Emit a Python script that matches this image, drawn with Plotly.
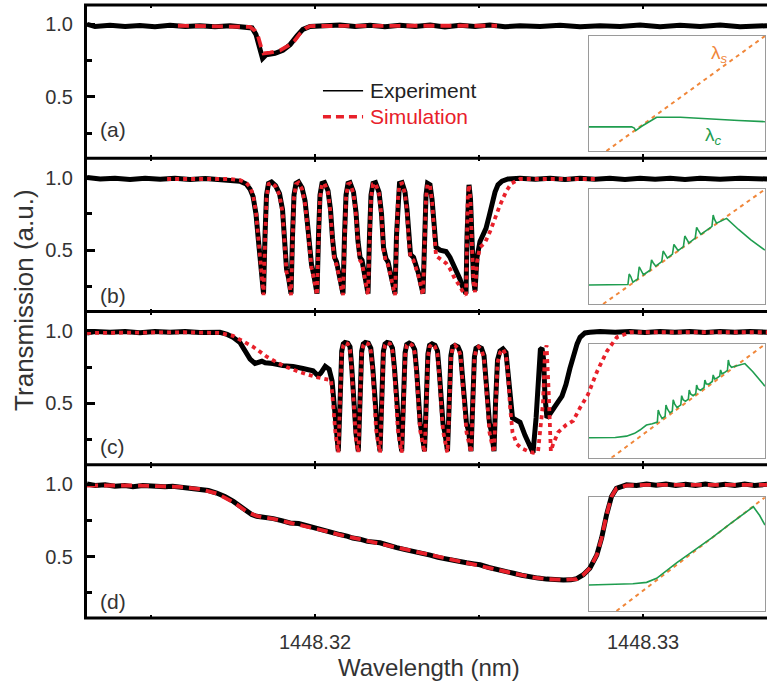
import plotly.graph_objects as go

# ---------------------------------------------------------------- data
# Wavelength values are offsets in pm above BASE_NM (1448.31 nm)
BASE_NM = 1448.31

x_tick_vals = [1448.32, 1448.33]
x_tick_text = ["1448.32", "1448.33"]
x_minor_vals = [1448.315, 1448.325]
y_tick_vals = [0.5, 1.0]
y_tick_text = ["0.5", "1.0"]
y_minor_vals = [0.25, 0.75]

# ---- panel (a)
a_exp_pm = [3.05, 3.29, 3.75, 4.21, 4.66, 5.12, 5.58, 6.04, 6.49, 6.95,
            7.41, 7.87, 8.08, 8.20, 8.29, 8.35, 8.40, 8.51, 8.78, 9.02,
            9.24, 9.45, 9.63, 9.85, 10.30, 10.76, 11.22, 11.68, 12.13, 12.59,
            13.05, 13.51, 13.96, 14.42, 14.88, 15.33, 15.79, 16.25, 16.86, 17.47,
            18.08, 18.69, 19.30, 19.91, 20.52, 21.13, 21.74, 22.35, 22.96, 23.78]
a_exp_T = [1.0, 0.985, 0.993, 0.985, 0.992, 0.983, 0.993, 0.985, 0.99, 0.983,
           0.99, 0.985, 0.975, 0.93, 0.85, 0.78, 0.765, 0.79, 0.80, 0.82,
           0.86, 0.92, 0.965, 0.985, 0.99, 0.995, 0.985, 0.993, 0.983, 0.993,
           0.985, 0.995, 0.982, 0.993, 0.985, 0.995, 0.983, 0.99, 0.985, 0.993,
           0.983, 0.99, 0.985, 0.995, 0.983, 0.993, 0.985, 0.995, 0.983, 0.99]
a_sim_pm = [5.82, 7.41, 8.02, 8.17, 8.26, 8.36, 8.43, 8.63, 8.93, 9.24,
            9.39, 9.54, 9.70, 9.85, 11.00, 13.00, 15.55]
a_sim_T = [0.99, 0.988, 0.982, 0.955, 0.92, 0.84, 0.80, 0.805, 0.82, 0.86,
           0.89, 0.935, 0.97, 0.988, 0.99, 0.99, 0.99]

# ---- panel (b)
b_exp_pre_pm = [3.05, 3.45, 3.90, 4.36, 4.82, 5.28, 5.73, 6.19, 6.65, 7.10,
                7.41, 7.71, 7.90, 8.02, 8.11, 8.20, 8.26, 8.32, 8.38]
b_exp_pre_T = [1.0, 0.99, 0.995, 0.987, 0.995, 0.988, 0.995, 0.987, 0.993, 0.988,
               0.985, 0.975, 0.955, 0.92, 0.87, 0.75, 0.60, 0.42, 0.27]
b_sim_pre_pm = [5.49, 6.50, 7.41, 7.71, 7.90, 8.02, 8.11, 8.20, 8.26, 8.32, 8.38]
b_sim_pre_T = [0.99, 0.992, 0.99, 0.982, 0.965, 0.935, 0.88, 0.76, 0.60, 0.42, 0.27]
b_osc_pm = [8.430, 8.475, 8.521, 8.582, 8.673, 8.795, 8.917, 9.009, 9.070, 9.131, 9.192,
            9.268, 9.314, 9.359, 9.420, 9.497, 9.603, 9.695, 9.771, 9.832, 9.893, 9.969,
            10.061, 10.106, 10.152, 10.213, 10.289, 10.396, 10.472, 10.533, 10.594, 10.655, 10.747,
            10.853, 10.899, 10.945, 11.006, 11.067, 11.173, 11.250, 11.311, 11.372, 11.433, 11.524,
            11.616, 11.661, 11.707, 11.768, 11.844, 11.951, 12.027, 12.088, 12.164, 12.225, 12.332,
            12.439, 12.484, 12.530, 12.576, 12.652, 12.744, 12.805, 12.866, 12.911, 13.003, 13.155,
            13.292, 13.338, 13.384, 13.430, 13.506, 13.567, 13.628, 13.689, 13.811, 13.994, 14.116,
            14.268, 14.420, 14.512,
            14.603, 14.634, 14.658, 14.695, 14.741, 14.786, 14.832, 14.878]
b_osc_exp_T = [0.20, 0.60, 0.88, 0.96, 0.97, 0.945, 0.89, 0.78, 0.55, 0.37, 0.31,
               0.20, 0.60, 0.88, 0.96, 0.97, 0.93, 0.84, 0.68, 0.50, 0.40, 0.32,
               0.20, 0.60, 0.88, 0.96, 0.965, 0.91, 0.78, 0.58, 0.45, 0.42, 0.33,
               0.20, 0.60, 0.88, 0.96, 0.965, 0.90, 0.76, 0.56, 0.45, 0.43, 0.32,
               0.20, 0.60, 0.88, 0.96, 0.965, 0.90, 0.75, 0.52, 0.44, 0.42, 0.32,
               0.20, 0.60, 0.88, 0.96, 0.965, 0.90, 0.78, 0.56, 0.47, 0.45, 0.34,
               0.20, 0.60, 0.88, 0.96, 0.95, 0.85, 0.65, 0.52, 0.50, 0.49, 0.45,
               0.38, 0.30, 0.24,
               0.20, 0.60, 0.90, 0.95, 0.85, 0.55, 0.30, 0.22]
b_osc_sim_T = [0.19, 0.55, 0.86, 0.955, 0.965, 0.94, 0.88, 0.76, 0.52, 0.35, 0.30,
               0.19, 0.55, 0.86, 0.955, 0.965, 0.92, 0.82, 0.66, 0.48, 0.38, 0.30,
               0.19, 0.55, 0.86, 0.955, 0.96, 0.90, 0.76, 0.56, 0.43, 0.40, 0.31,
               0.19, 0.55, 0.86, 0.955, 0.96, 0.89, 0.74, 0.54, 0.43, 0.41, 0.30,
               0.19, 0.55, 0.86, 0.955, 0.96, 0.89, 0.73, 0.50, 0.42, 0.40, 0.30,
               0.19, 0.55, 0.86, 0.955, 0.96, 0.89, 0.76, 0.54, 0.45, 0.43, 0.32,
               0.19, 0.55, 0.86, 0.955, 0.945, 0.84, 0.62, 0.46, 0.44, 0.41, 0.37,
               0.30, 0.25, 0.21,
               0.19, 0.55, 0.88, 0.95, 0.84, 0.52, 0.28, 0.21]
b_exp_post_pm = [14.939, 15.030, 15.122, 15.213, 15.305, 15.396, 15.488, 15.579, 15.701, 15.884,
                 16.25, 16.71, 17.17, 17.62, 18.08, 18.54, 18.99, 19.45, 19.91, 20.37,
                 20.83, 21.28, 21.74, 22.35, 22.96, 23.78]
b_exp_post_T = [0.45, 0.56, 0.60, 0.65, 0.73, 0.82, 0.90, 0.95, 0.975, 0.99,
                0.995, 0.988, 0.995, 0.987, 0.995, 0.988, 0.995, 0.987, 0.995, 0.988,
                0.995, 0.987, 0.995, 0.988, 0.995, 0.99]
b_sim_post_pm = [14.94, 15.03, 15.18, 15.34, 15.49, 15.64, 15.84, 15.99, 16.25, 17.00, 18.60]
b_sim_post_T = [0.42, 0.52, 0.55, 0.63, 0.72, 0.81, 0.91, 0.96, 0.99, 0.99, 0.99]

# ---- panel (c)
c_exp_pre_pm = [3.05, 3.29, 3.75, 4.21, 4.66, 5.12, 5.58, 6.04, 6.49, 6.95,
                7.10, 7.32, 7.50, 7.71, 7.87, 8.02, 8.17, 8.26, 8.38, 8.48,
                8.72, 9.02, 9.33, 9.63, 9.94, 10.09, 10.18, 10.31, 10.43, 10.52,
                10.58, 10.64]
c_exp_pre_T = [0.985, 0.995, 0.99, 0.995, 0.987, 0.995, 0.99, 0.995, 0.988, 0.995,
               0.99, 0.975, 0.955, 0.92, 0.86, 0.805, 0.775, 0.78, 0.79, 0.78,
               0.775, 0.76, 0.755, 0.74, 0.725, 0.69, 0.71, 0.755, 0.735, 0.655,
               0.495, 0.33]
c_sim_pre_pm = [3.05, 4.50, 6.00, 7.10, 7.50, 8.11, 8.54, 9.02, 9.54, 10.05, 10.31, 10.49, 10.55, 10.62]
c_sim_pre_T = [0.985, 0.99, 0.99, 0.985, 0.965, 0.89, 0.82, 0.76, 0.715, 0.68, 0.665, 0.66, 0.50, 0.30]
c_osc_pm = [10.710, 10.762, 10.814, 10.862, 10.914, 11.000, 11.067, 11.119, 11.167, 11.213, 11.250,
            11.320, 11.372, 11.423, 11.472, 11.533, 11.625, 11.701, 11.762, 11.814, 11.862, 11.908,
            11.982, 12.033, 12.085, 12.134, 12.195, 12.286, 12.362, 12.423, 12.475, 12.524, 12.570,
            12.643, 12.695, 12.747, 12.795, 12.872, 12.963, 13.039, 13.100, 13.155, 13.207, 13.262,
            13.338, 13.390, 13.442, 13.491, 13.567, 13.658, 13.734, 13.795, 13.850, 13.902, 13.957,
            14.039, 14.091, 14.143, 14.192, 14.268, 14.359, 14.436, 14.497, 14.558, 14.619, 14.680,
            14.756, 14.808, 14.859, 14.908, 14.984, 15.076, 15.152, 15.213, 15.268, 15.320, 15.375]
c_osc_exp_T = [0.17, 0.50, 0.86, 0.91, 0.92, 0.915, 0.89, 0.75, 0.55, 0.36, 0.29,
               0.17, 0.50, 0.86, 0.91, 0.92, 0.915, 0.88, 0.74, 0.54, 0.36, 0.29,
               0.17, 0.50, 0.86, 0.91, 0.92, 0.915, 0.88, 0.74, 0.54, 0.36, 0.29,
               0.17, 0.50, 0.85, 0.905, 0.915, 0.905, 0.87, 0.72, 0.52, 0.36, 0.29,
               0.17, 0.50, 0.84, 0.90, 0.91, 0.90, 0.86, 0.70, 0.50, 0.36, 0.30,
               0.17, 0.50, 0.83, 0.89, 0.90, 0.89, 0.85, 0.68, 0.48, 0.36, 0.31,
               0.17, 0.50, 0.82, 0.88, 0.89, 0.88, 0.83, 0.66, 0.47, 0.36, 0.31]
c_osc_sim_T = [0.16, 0.45, 0.84, 0.90, 0.92, 0.91, 0.87, 0.72, 0.50, 0.32, 0.25,
               0.16, 0.45, 0.84, 0.90, 0.92, 0.91, 0.86, 0.71, 0.49, 0.32, 0.25,
               0.16, 0.45, 0.84, 0.90, 0.92, 0.91, 0.86, 0.71, 0.49, 0.32, 0.25,
               0.16, 0.45, 0.83, 0.90, 0.915, 0.90, 0.85, 0.69, 0.47, 0.31, 0.25,
               0.16, 0.45, 0.82, 0.89, 0.91, 0.89, 0.84, 0.67, 0.45, 0.31, 0.25,
               0.16, 0.45, 0.81, 0.88, 0.90, 0.88, 0.83, 0.65, 0.43, 0.30, 0.24,
               0.16, 0.45, 0.80, 0.87, 0.89, 0.87, 0.81, 0.63, 0.42, 0.30, 0.24]
c_exp_post_pm = [15.457, 15.503, 15.564, 15.640, 15.731, 15.823, 15.884, 15.945, 16.021, 16.098,
                 16.250, 16.402, 16.555,
                 16.646, 16.74, 16.81, 16.87, 16.92, 16.97, 17.01, 17.07, 17.17, 17.27,
                 17.41, 17.53, 17.65, 17.77, 17.88, 17.99,
                 18.08, 18.23, 18.38, 18.69, 19.15, 19.60, 20.06, 20.52, 20.97, 21.43,
                 21.89, 22.35, 22.80, 23.26, 23.78]
c_exp_post_T = [0.17, 0.50, 0.80, 0.86, 0.875, 0.85, 0.72, 0.52, 0.40, 0.39,
                0.37, 0.28, 0.20,
                0.16, 0.40, 0.75, 0.87, 0.88, 0.80, 0.55, 0.40, 0.43, 0.47,
                0.51, 0.55, 0.63, 0.74, 0.83, 0.91,
                0.955, 0.985, 0.99, 0.995, 0.99, 0.995, 0.988, 0.995, 0.99, 0.995,
                0.988, 0.995, 0.99, 0.995, 0.99]
c_sim_post_pm = [15.457, 15.503, 15.564, 15.640, 15.731, 15.823, 15.884, 15.945, 16.021, 16.15,
                 16.30, 16.50, 16.65, 16.80,
                 16.95, 17.01, 17.06, 17.12, 17.19, 17.26, 17.41, 17.65, 17.87, 18.08,
                 18.32, 18.60, 18.90, 19.20, 19.60,
                 20.50, 21.50, 22.50, 23.78]
c_sim_post_T = [0.16, 0.45, 0.78, 0.85, 0.875, 0.83, 0.70, 0.48, 0.30, 0.22,
                0.19, 0.17, 0.16, 0.17,
                0.50, 0.85, 0.90, 0.60, 0.17, 0.22, 0.30, 0.35, 0.38, 0.47,
                0.56, 0.72, 0.86, 0.955, 0.99,
                0.99, 0.99, 0.99, 0.99]

# ---- panel (d)
d_exp_pm = [3.05, 3.30, 3.60, 3.90, 4.20, 4.45, 4.75, 4.97, 5.20, 5.43,
            5.66, 5.88, 6.20, 6.49, 6.75, 7.00, 7.25, 7.51, 7.72, 7.92,
            8.07, 8.22, 8.48, 8.73, 8.98, 9.24, 9.50, 9.75, 10.00, 10.25,
            10.50, 10.76, 11.00, 11.15, 11.37, 11.60, 11.98, 12.20, 12.49, 12.75,
            12.99, 13.25, 13.51, 13.75, 14.01, 14.30, 14.62, 14.85, 15.03, 15.30,
            15.54, 15.80, 16.05, 16.30, 16.55, 16.80, 17.06, 17.30, 17.57, 17.80,
            17.98, 18.18, 18.38, 18.59, 18.74, 18.89, 19.04, 19.19, 19.35, 19.50,
            19.80, 20.11, 20.40, 20.70, 21.00, 21.30, 21.60, 21.90, 22.20, 22.50,
            22.80, 23.10, 23.40, 23.78]
d_exp_T = [1.0, 0.99, 0.995, 0.985, 0.99, 0.982, 0.99, 0.985, 0.988, 0.982,
           0.985, 0.978, 0.972, 0.962, 0.955, 0.938, 0.915, 0.88, 0.845, 0.81,
           0.79, 0.778, 0.772, 0.762, 0.748, 0.732, 0.728, 0.712, 0.695, 0.682,
           0.668, 0.652, 0.64, 0.628, 0.62, 0.605, 0.595, 0.578, 0.562, 0.548,
           0.538, 0.522, 0.51, 0.495, 0.482, 0.47, 0.458, 0.45, 0.444, 0.425,
           0.41, 0.395, 0.385, 0.372, 0.36, 0.352, 0.345, 0.338, 0.338, 0.34,
           0.348, 0.375, 0.42, 0.51, 0.63, 0.79, 0.915, 0.97, 0.985, 0.995,
           0.99, 1.0, 0.992, 1.0, 0.99, 0.998, 0.99, 1.0, 0.99, 0.998,
           0.99, 1.0, 0.99, 0.998]
d_sim_pm = [3.05, 4.50, 5.88, 6.49, 7.00, 7.51, 7.92, 8.22, 8.73, 9.24,
            9.75, 10.25, 10.76, 11.37, 11.98, 12.49, 12.99, 13.51, 14.01, 14.62,
            15.03, 15.54, 16.05, 16.55, 17.06, 17.57, 17.98, 18.18, 18.38, 18.59,
            18.74, 18.89, 19.04, 19.19, 19.50, 20.11, 23.78]
d_sim_T = [0.99, 0.99, 0.98, 0.965, 0.935, 0.875, 0.81, 0.78, 0.76, 0.735,
           0.705, 0.68, 0.65, 0.62, 0.59, 0.56, 0.535, 0.51, 0.485, 0.46,
           0.44, 0.41, 0.385, 0.36, 0.345, 0.34, 0.345, 0.375, 0.42, 0.51,
           0.63, 0.79, 0.915, 0.97, 0.99, 0.995, 0.995]

# ---- insets (normalised coordinates)
ia_s_u = [0.10, 1.0]
ia_s_v = [0.0, 1.0]
ia_c_u = [0.0, 0.243, 0.258, 0.266, 0.30, 0.345, 0.385, 0.52, 0.70, 0.85, 1.0]
ia_c_v = [0.21, 0.21, 0.20, 0.178, 0.215, 0.26, 0.293, 0.293, 0.275, 0.265, 0.255]

ib_s_u = [0.081, 1.0]
ib_s_v = [0.0, 1.0]
ib_c_u = [0.0, 0.214, 0.222, 0.229, 0.238, 0.25, 0.278, 0.286, 0.295, 0.31,
          0.348, 0.356, 0.365, 0.38, 0.414, 0.422, 0.431, 0.446, 0.475, 0.483,
          0.492, 0.507, 0.537, 0.545, 0.554, 0.568, 0.604, 0.612, 0.621, 0.636,
          0.69, 0.699, 0.706, 0.713, 0.725, 0.782, 0.85, 0.92, 1.0]
ib_c_v = [0.166, 0.168, 0.17, 0.262, 0.24, 0.19, 0.22, 0.325, 0.30, 0.255,
          0.295, 0.384, 0.36, 0.33, 0.37, 0.462, 0.44, 0.40, 0.435, 0.52,
          0.50, 0.466, 0.50, 0.593, 0.57, 0.532, 0.575, 0.669, 0.645, 0.607,
          0.665, 0.678, 0.776, 0.74, 0.705, 0.747, 0.65, 0.56, 0.47]

ic_s_u = [0.129, 1.0]
ic_s_v = [0.0, 1.0]
ic_c_u = [0.0, 0.15, 0.214, 0.26, 0.29, 0.327, 0.36, 0.389, 0.394, 0.402,
          0.416, 0.433, 0.438, 0.446, 0.46, 0.474, 0.479, 0.487, 0.501, 0.522,
          0.527, 0.535, 0.549, 0.565, 0.57, 0.578, 0.592, 0.607, 0.612, 0.62,
          0.634, 0.654, 0.659, 0.667, 0.681, 0.701, 0.706, 0.714, 0.728, 0.743,
          0.748, 0.756, 0.77, 0.787, 0.792, 0.798, 0.81, 0.85, 0.886, 0.93,
          0.97, 1.0]
ic_c_v = [0.176, 0.178, 0.19, 0.215, 0.244, 0.288, 0.30, 0.314, 0.42, 0.385,
          0.345, 0.364, 0.465, 0.43, 0.395, 0.411, 0.51, 0.475, 0.442, 0.466,
          0.547, 0.512, 0.497, 0.516, 0.597, 0.562, 0.547, 0.564, 0.641, 0.606,
          0.595, 0.618, 0.685, 0.65, 0.649, 0.672, 0.73, 0.695, 0.703, 0.72,
          0.774, 0.739, 0.751, 0.77, 0.862, 0.82, 0.797, 0.815, 0.83, 0.76,
          0.68, 0.63]

id_s_u = [0.157, 1.0]
id_s_v = [0.0, 1.0]
id_c_u = [0.0, 0.15, 0.25, 0.328, 0.36, 0.385, 0.5, 0.6, 0.7, 0.8, 0.934, 0.97, 1.0]
id_c_v = [0.229, 0.232, 0.24, 0.252, 0.27, 0.288, 0.425, 0.535, 0.645, 0.765, 0.917, 0.84, 0.756]

panel_labels = ["(a)", "(b)", "(c)", "(d)"]
legend_names = ["Experiment", "Simulation"]

# ---------------------------------------------------------------- assemble series
b_exp_pm = b_exp_pre_pm + b_osc_pm + b_exp_post_pm
b_exp_T = b_exp_pre_T + b_osc_exp_T + b_exp_post_T
b_sim_pm = b_sim_pre_pm + b_osc_pm + b_sim_post_pm
b_sim_T = b_sim_pre_T + b_osc_sim_T + b_sim_post_T
c_exp_pm = c_exp_pre_pm + c_osc_pm + c_exp_post_pm
c_exp_T = c_exp_pre_T + c_osc_exp_T + c_exp_post_T
c_sim_pm = c_sim_pre_pm + c_osc_pm + c_sim_post_pm
c_sim_T = c_sim_pre_T + c_osc_sim_T + c_sim_post_T

# ---------------------------------------------------------------- style
FONT = "Arial, 'Liberation Sans', sans-serif"
TXT = "#333333"
RED = "#e8202a"
ORANGE = "#f0873a"
GREEN = "#1f9d4f"
X_RANGE_PM = [3.048, 23.78]
Y_RANGE = [0.077, 1.133]


def to_nm(pm_list):
    return [BASE_NM + p / 1000.0 for p in pm_list]


panels = [
    (a_exp_pm, a_exp_T, a_sim_pm, a_sim_T, "11px,6px"),
    (b_exp_pm, b_exp_T, b_sim_pm, b_sim_T, "4px,4px"),
    (c_exp_pm, c_exp_T, c_sim_pm, c_sim_T, "4px,4px"),
    (d_exp_pm, d_exp_T, d_sim_pm, d_sim_T, "11px,6px"),
]
insets = [
    (ia_s_u, ia_s_v, ia_c_u, ia_c_v),
    (ib_s_u, ib_s_v, ib_c_u, ib_c_v),
    (ic_s_u, ic_s_v, ic_c_u, ic_c_v),
    (id_s_u, id_s_v, id_c_u, id_c_v),
]

main_dom = [[0.75, 1.0], [0.5, 0.75], [0.25, 0.5], [0.0, 0.25]]
inset_ydom = [[0.7618, 0.9494], [0.5122, 0.6993], [0.2615, 0.4465], [0.0114, 0.1969]]
inset_xdom = [0.738, 0.997]
label_y = [0.7972, 0.5269, 0.2794, 0.0266]

fig = go.Figure()
layout = {}

for i, (su, sv, cu, cv) in enumerate(insets, start=1):
    sfx = "" if i == 1 else str(i)
    fig.add_trace(go.Scatter(x=su, y=sv, mode="lines",
                             line=dict(color=ORANGE, width=2, dash="4px,4px"),
                             xaxis="x" + sfx, yaxis="y" + sfx,
                             showlegend=False, hoverinfo="skip"))
    fig.add_trace(go.Scatter(x=cu, y=cv, mode="lines",
                             line=dict(color=GREEN, width=1.6),
                             xaxis="x" + sfx, yaxis="y" + sfx,
                             showlegend=False, hoverinfo="skip"))
    ax = dict(range=[0, 1], showgrid=False, zeroline=False, showline=True,
              mirror=True, linecolor="#9a9a9a", linewidth=1, ticks="",
              showticklabels=False)
    layout["xaxis" + sfx] = dict(ax, domain=inset_xdom, anchor="y" + sfx)
    layout["yaxis" + sfx] = dict(ax, domain=inset_ydom[i - 1], anchor="x" + sfx)

x_range = to_nm(X_RANGE_PM)
for k, (epm, eT, spm, sT, dash) in enumerate(panels):
    n = k + 5
    fig.add_trace(go.Scatter(x=to_nm(epm), y=eT, mode="lines",
                             line=dict(color="black", width=5),
                             xaxis=f"x{n}", yaxis=f"y{n}",
                             showlegend=False, hoverinfo="skip"))
    fig.add_trace(go.Scatter(x=to_nm(spm), y=sT, mode="lines",
                             line=dict(color=RED, width=3.8, dash=dash),
                             xaxis=f"x{n}", yaxis=f"y{n}",
                             showlegend=False, hoverinfo="skip"))
    layout[f"xaxis{n}"] = dict(
        domain=[0, 1], anchor=f"y{n}", range=x_range,
        showgrid=False, zeroline=False, showline=False,
        ticks="inside", ticklen=4, tickwidth=2, tickcolor="black",
        tickmode="array", tickvals=x_tick_vals, ticktext=x_tick_text,
        showticklabels=(n == 8), ticklabelstandoff=10,
        tickfont=dict(size=20, color=TXT, family=FONT),
        minor=dict(tickmode="array", tickvals=x_minor_vals, ticks="inside",
                   ticklen=3, tickwidth=2, tickcolor="black"),
        mirror="ticks")
    layout[f"yaxis{n}"] = dict(
        domain=main_dom[k], anchor=f"x{n}", range=Y_RANGE,
        showgrid=False, zeroline=False, showline=True, linewidth=3,
        linecolor="black", ticks="inside", ticklen=8, tickwidth=3,
        tickcolor="black", tickmode="array", tickvals=y_tick_vals,
        ticktext=y_tick_text, ticklabelstandoff=7,
        tickfont=dict(size=20, color=TXT, family=FONT),
        minor=dict(tickmode="array", tickvals=y_minor_vals, ticks="inside",
                   ticklen=5, tickwidth=3, tickcolor="black"))

shapes = []
for yy in [0.0, 0.25, 0.5, 0.75, 1.0]:
    shapes.append(dict(type="line", xref="paper", yref="paper",
                       x0=-0.0044, x1=1.0, y0=yy, y1=yy,
                       line=dict(color="black", width=3)))
shapes.append(dict(type="line", xref="paper", yref="paper",
                   x0=0.347, x1=0.406, y0=0.8602, y1=0.8602,
                   line=dict(color="black", width=1.5)))
shapes.append(dict(type="line", xref="paper", yref="paper",
                   x0=0.347, x1=0.406, y0=0.8178, y1=0.8178,
                   line=dict(color=RED, width=3.5, dash="8px,5px")))

annotations = [
    dict(text="Transmission (a.u.)", xref="paper", yref="paper",
         x=-0.0926, y=0.519, textangle=-90, showarrow=False,
         xanchor="center", yanchor="middle",
         font=dict(size=26, color=TXT, family=FONT)),
    dict(text="Wavelength (nm)", xref="paper", yref="paper",
         x=0.503, y=-0.080, showarrow=False,
         xanchor="center", yanchor="middle",
         font=dict(size=24, color=TXT, family=FONT)),
    dict(text=legend_names[0], xref="paper", yref="paper",
         x=0.413, y=0.8602, showarrow=False, xanchor="left", yanchor="middle",
         font=dict(size=21, color="#222222", family=FONT)),
    dict(text=legend_names[1], xref="paper", yref="paper",
         x=0.413, y=0.8178, showarrow=False, xanchor="left", yanchor="middle",
         font=dict(size=21, color=RED, family=FONT)),
    dict(text="λ<sub><i>s</i></sub>", xref="x", yref="y", x=0.744, y=0.843,
         showarrow=False, xanchor="center", yanchor="middle",
         font=dict(size=19, color=ORANGE, family=FONT)),
    dict(text="λ<sub><i>c</i></sub>", xref="x", yref="y", x=0.71, y=0.13,
         showarrow=False, xanchor="center", yanchor="middle",
         font=dict(size=19, color=GREEN, family=FONT)),
]
for lab, yy in zip(panel_labels, label_y):
    annotations.append(dict(text=lab, xref="paper", yref="paper", x=0.016, y=yy,
                            showarrow=False, xanchor="left", yanchor="middle",
                            font=dict(size=21, color=TXT, family=FONT)))

fig.update_layout(**layout)
fig.update_layout(
    width=767, height=685,
    margin=dict(l=87, r=0, t=5, b=67),
    paper_bgcolor="white", plot_bgcolor="rgba(0,0,0,0)",
    showlegend=False,
    font=dict(family=FONT, color=TXT),
    shapes=shapes, annotations=annotations,
)

fig.write_html("out.html", config={"displayModeBar": False},
               post_script="document.body.style.margin='0';")
